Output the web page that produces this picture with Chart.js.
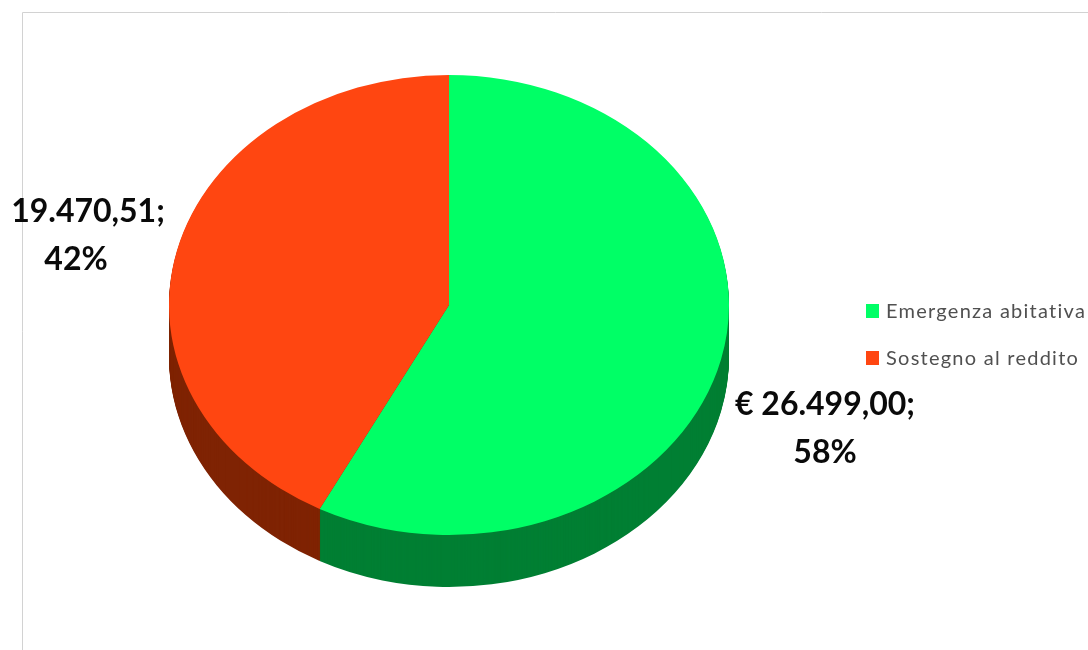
<!DOCTYPE html>
<html>
<head>
<meta charset="utf-8">
<title>Emergenza abitativa / Sostegno al reddito</title>
<script src="https://cdn.jsdelivr.net/npm/chart.js@4"></script>
<style>
    body { margin: 0; background: #fff; }
    canvas { display: block; }
</style>
</head>
<body>
<canvas id="myPieChart" width="1088" height="650"></canvas>
<script>
const categories = ["Emergenza abitativa", "Sostegno al reddito"];
const values = [26499.0, 19470.51];
const topColors = ["#00FF66", "#FF4611"];
const sideColors = ["#007F33", "#7F2303"];
const labelFirstLines = ["€ 26.499,00;", "19.470,51;"];
const labelSecondLines = ["58%", "42%"];

// schiacciamento e spessore per l'effetto 3D
const squash = 230 / 280;
const depth = 52;

const pie3d = {
    id: "pie3d",
    beforeDatasetsDraw(chart) {
        const ctx = chart.ctx;
        const arcs = chart.getDatasetMeta(0).data;
        const cx = arcs[0].x;
        const cy = arcs[0].y;
        // lato del cilindro
        for (let d = depth; d > 0; d--) {
            ctx.save();
            ctx.translate(cx, cy + d);
            ctx.scale(1, squash);
            ctx.translate(-cx, -cy);
            arcs.forEach(function (arc, i) {
                const old = arc.options.backgroundColor;
                arc.options.backgroundColor = sideColors[i];
                arc.draw(ctx);
                arc.options.backgroundColor = old;
            });
            ctx.restore();
        }
        // faccia superiore, disegnata da Chart.js
        ctx.save();
        ctx.translate(cx, cy);
        ctx.scale(1, squash);
        ctx.translate(-cx, -cy);
    },
    afterDatasetsDraw(chart) {
        chart.ctx.restore();
    },
};

const frameAndText = {
    id: "frameAndText",
    beforeDraw(chart) {
        const ctx = chart.ctx;
        ctx.save();
        ctx.strokeStyle = "#D2D2D2";
        ctx.lineWidth = 1;
        ctx.beginPath();
        ctx.moveTo(22.5, 650);
        ctx.lineTo(22.5, 12.5);
        ctx.lineTo(1088, 12.5);
        ctx.stroke();
        ctx.restore();
    },
    afterDraw(chart) {
        const ctx = chart.ctx;
        ctx.save();
        // etichette dati
        ctx.fillStyle = "#0A0A0A";
        ctx.font = "bold 32px Lato";
        ctx.textAlign = "center";
        ctx.textBaseline = "middle";
        ctx.fillText(labelFirstLines[0], 825, 405);
        ctx.fillText(labelSecondLines[0], 825, 453);
        ctx.fillText(labelFirstLines[1], 88, 212);
        ctx.fillText(labelSecondLines[1], 76, 260);
        // legenda
        ctx.font = "20px Lato";
        ctx.textAlign = "left";
        ctx.letterSpacing = "1.25px";
        categories.forEach(function (name, i) {
            const y = 311 + i * 47;
            ctx.fillStyle = topColors[i];
            ctx.fillRect(866, y - 7, 13, 14);
            ctx.fillStyle = "#505050";
            ctx.fillText(name, 886, y + 1);
        });
        ctx.restore();
    },
};

new Chart(document.getElementById("myPieChart").getContext("2d"), {
    type: "pie",
    data: {
        labels: categories,
        datasets: [
            {
                data: values,
                backgroundColor: topColors,
                borderWidth: 0,
            },
        ],
    },
    options: {
        responsive: false,
        animation: false,
        layout: {
            padding: { left: 169, right: 359, top: 25, bottom: 65 },
        },
        plugins: {
            legend: { display: false },
            tooltip: { enabled: false },
        },
    },
    plugins: [frameAndText, pie3d],
});
</script>
</body>
</html>
